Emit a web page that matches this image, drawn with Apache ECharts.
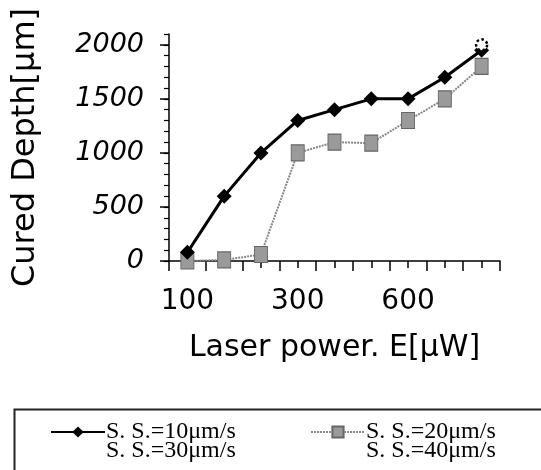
<!DOCTYPE html>
<html>
<head>
<meta charset="utf-8">
<script src="https://cdn.jsdelivr.net/npm/echarts@6/dist/echarts.min.js"></script>
<style>
  html, body { margin: 0; padding: 0; background: #fff; }
  #chart { width: 541px; height: 470px; }
</style>
</head>
<body>
<div id="chart"></div>
<script>
// laser power categories (only every third is labelled)
const powers = ['100', '150', '200', '300', '400', '500', '600', '700', '800'];
const depth10 = [80, 600, 1000, 1300, 1400, 1500, 1500, 1700, 1950];
const depth20 = [0, 10, 60, 1000, 1100, 1090, 1300, 1500, 1800];
const depth30 = [null, null, null, null, null, null, null, null, 2000];
const depth40 = [];
const seriesNames = ['S. S.=10μm/s', 'S. S.=20μm/s', 'S. S.=30μm/s', 'S. S.=40μm/s'];

const chart = echarts.init(document.getElementById('chart'));

const sansFont = 'DejaVu Sans';
const serifFont = 'Liberation Serif';

const legendBase = {
  orient: 'vertical',
  top: 415,
  height: 70,
  itemWidth: 54,
  itemHeight: 14,
  itemGap: -5,
  textStyle: { fontFamily: serifFont, fontSize: 24, lineHeight: 18, color: '#000', padding: [0, 0, 0, -4] }
};

chart.setOption({
  animation: false,
  grid: { left: 169, right: 41, top: 34, bottom: 209 },
  xAxis: [
    {
      type: 'category',
      data: powers,
      boundaryGap: true,
      name: 'Laser power. E[μW]',
      nameLocation: 'middle',
      nameGap: 72,
      nameTextStyle: { fontFamily: sansFont, fontSize: 30, color: '#000' },
      axisLine: { lineStyle: { color: '#000', width: 1.5 } },
      axisTick: { show: true, interval: 0, length: 10, lineStyle: { color: '#000', width: 1.5 } },
      axisLabel: {
        interval: 2,
        margin: 27,
        fontFamily: sansFont,
        fontSize: 28,
        color: '#000'
      }
    },
    {
      type: 'category',
      data: powers,
      boundaryGap: true,
      position: 'bottom',
      axisLine: { show: false },
      axisTick: { show: true, interval: 0, alignWithLabel: true, length: 7, lineStyle: { color: '#000', width: 1.5 } },
      axisLabel: { show: false }
    }
  ],
  yAxis: [
    {
      type: 'value',
      min: 0,
      max: 2100,
      interval: 500,
      name: 'Cured Depth[μm]',
      nameLocation: 'middle',
      nameRotate: 90,
      nameGap: 127,
      nameTextStyle: { fontFamily: sansFont, fontSize: 32, color: '#000' },
      splitLine: { show: false },
      axisLine: { show: true, lineStyle: { color: '#000', width: 1.5 } },
      axisTick: { show: true, length: 9, lineStyle: { color: '#000', width: 1.5 } },
      axisLabel: {
        showMaxLabel: false,
        margin: 25,
        formatter: function (v) { return String(v); },
        fontFamily: sansFont,
        fontStyle: 'italic',
        fontSize: 27,
        color: '#000'
      }
    },
    {
      type: 'value',
      min: 0,
      max: 2100,
      interval: 100,
      position: 'left',
      splitLine: { show: false },
      axisLine: { show: false },
      axisTick: { show: true, length: 5, lineStyle: { color: '#000', width: 1.2 } },
      axisLabel: { show: false }
    }
  ],
  legend: [
    Object.assign({}, legendBase, {
      left: 45,
      data: [
        { name: seriesNames[0] },
        { name: seriesNames[2], itemStyle: { opacity: 0 }, lineStyle: { opacity: 0 } }
      ]
    }),
    Object.assign({}, legendBase, {
      left: 305,
      data: [
        { name: seriesNames[1] },
        { name: seriesNames[3], itemStyle: { opacity: 0 }, lineStyle: { opacity: 0 } }
      ]
    })
  ],
  graphic: [
    {
      type: 'rect',
      left: 12,
      top: 407,
      shape: { width: 560, height: 100 },
      style: { fill: 'none', stroke: '#222', lineWidth: 2 }
    }
  ],
  series: [
    {
      name: seriesNames[0],
      type: 'line',
      data: depth10,
      symbol: 'diamond',
      symbolSize: 15,
      lineStyle: { color: '#000', width: 3 },
      itemStyle: { color: '#000' },
      z: 3
    },
    {
      name: seriesNames[1],
      type: 'line',
      data: depth20,
      symbol: 'rect',
      symbolSize: [13, 16],
      lineStyle: { color: '#888', width: 2, type: [2, 1] },
      itemStyle: { color: '#9a9a9a', borderColor: '#666', borderWidth: 1 },
      z: 2
    },
    {
      name: seriesNames[2],
      type: 'line',
      data: depth30,
      symbol: 'circle',
      symbolSize: 11,
      showAllSymbol: true,
      lineStyle: { color: '#000', width: 1 },
      itemStyle: { color: '#fff', borderColor: '#000', borderWidth: 2.5, borderType: 'dotted' },
      z: 4
    },
    {
      name: seriesNames[3],
      type: 'line',
      data: depth40,
      symbol: 'none',
      lineStyle: { color: '#000', width: 1 }
    }
  ]
});
</script>
</body>
</html>
